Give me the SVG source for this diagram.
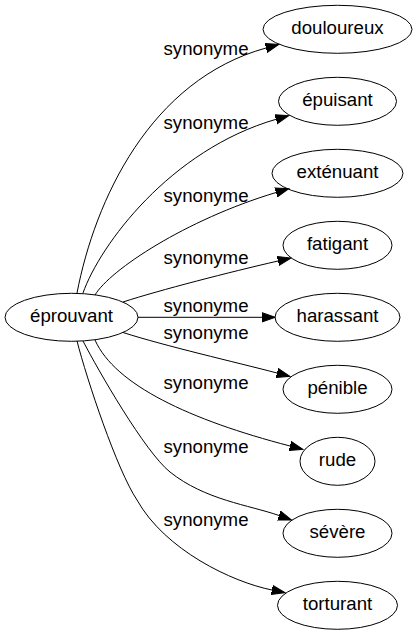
<svg xmlns="http://www.w3.org/2000/svg" width="416" height="635" viewBox="0 0 416 635">
<style>
  .node ellipse { fill: none; stroke: #000; stroke-width: 1; }
  .node text { font-family: "Liberation Sans", Arial, sans-serif; font-size: 18.67px; text-anchor: middle; fill: #000; }
  .edges path { fill: none; stroke: #000; stroke-width: 1; marker-end: url(#arrow); }
  .edges text { font-family: "Liberation Sans", Arial, sans-serif; font-size: 18.67px; text-anchor: middle; fill: #000; }
</style>
<defs>
  <marker id="arrow" markerUnits="userSpaceOnUse" markerWidth="16" markerHeight="12" refX="0" refY="6" orient="auto" viewBox="0 0 16 12">
    <path d="M0,1.33 L13.3,6 L0,10.67 Z" fill="#000" stroke="#000" stroke-width="1"/>
  </marker>
</defs>
<rect width="416" height="635" fill="#fff"/>
<g id="edges" class="edges">
  <path d="M77,293 C95,200 150,80 266,48"/>
  <text x="206" y="55">synonyme</text>
  <path d="M83,293 C100,245 170,150 276,119.3"/>
  <text x="206" y="128.5">synonyme</text>
  <path d="M95,295 C110,270 185,220 276,192.5"/>
  <text x="206" y="201.5">synonyme</text>
  <path d="M123,302 C160,290 230,272 278,261"/>
  <text x="206" y="263.5">synonyme</text>
  <path d="M138,317.3 L262,317.3"/>
  <text x="206" y="311.7">synonyme</text>
  <path d="M123,332.5 C165,346 235,362 277,373"/>
  <text x="206" y="339.3">synonyme</text>
  <path d="M95,340 C115,385 190,420 290,446"/>
  <text x="206" y="389">synonyme</text>
  <path d="M83,341 C98,370 145,452 170,472 C205,500 249,505 279,515.5"/>
  <text x="206" y="453">synonyme</text>
  <path d="M77,341 C87,380 117,470 137,500 C165,550 232,582 272,590"/>
  <text x="206" y="526">synonyme</text>
</g>
<g id="node-eprouvant" class="node">
  <ellipse cx="71.5" cy="317.3" rx="66.5" ry="24"/>
  <text x="71.5" y="322.2">éprouvant</text>
</g>
<g id="node-douloureux" class="node">
  <ellipse cx="337.5" cy="29.3" rx="74.5" ry="24"/>
  <text x="337.5" y="34.2">douloureux</text>
</g>
<g id="node-epuisant" class="node">
  <ellipse cx="337.5" cy="101.3" rx="59" ry="24"/>
  <text x="337.5" y="106.2">épuisant</text>
</g>
<g id="node-extenuant" class="node">
  <ellipse cx="337.5" cy="173.3" rx="65.5" ry="24"/>
  <text x="337.5" y="178.2">exténuant</text>
</g>
<g id="node-fatigant" class="node">
  <ellipse cx="337.5" cy="245.3" rx="54.5" ry="24"/>
  <text x="337.5" y="250.2">fatigant</text>
</g>
<g id="node-harassant" class="node">
  <ellipse cx="337.5" cy="317.3" rx="62.5" ry="24"/>
  <text x="337.5" y="322.2">harassant</text>
</g>
<g id="node-penible" class="node">
  <ellipse cx="337.5" cy="389.3" rx="54.5" ry="24"/>
  <text x="337.5" y="394.2">pénible</text>
</g>
<g id="node-rude" class="node">
  <ellipse cx="337.5" cy="461.3" rx="37.5" ry="24"/>
  <text x="337.5" y="466.2">rude</text>
</g>
<g id="node-severe" class="node">
  <ellipse cx="337.5" cy="533.3" rx="54.5" ry="24"/>
  <text x="337.5" y="538.2">sévère</text>
</g>
<g id="node-torturant" class="node">
  <ellipse cx="337.5" cy="605.3" rx="60" ry="24"/>
  <text x="337.5" y="610.2">torturant</text>
</g>
</svg>
